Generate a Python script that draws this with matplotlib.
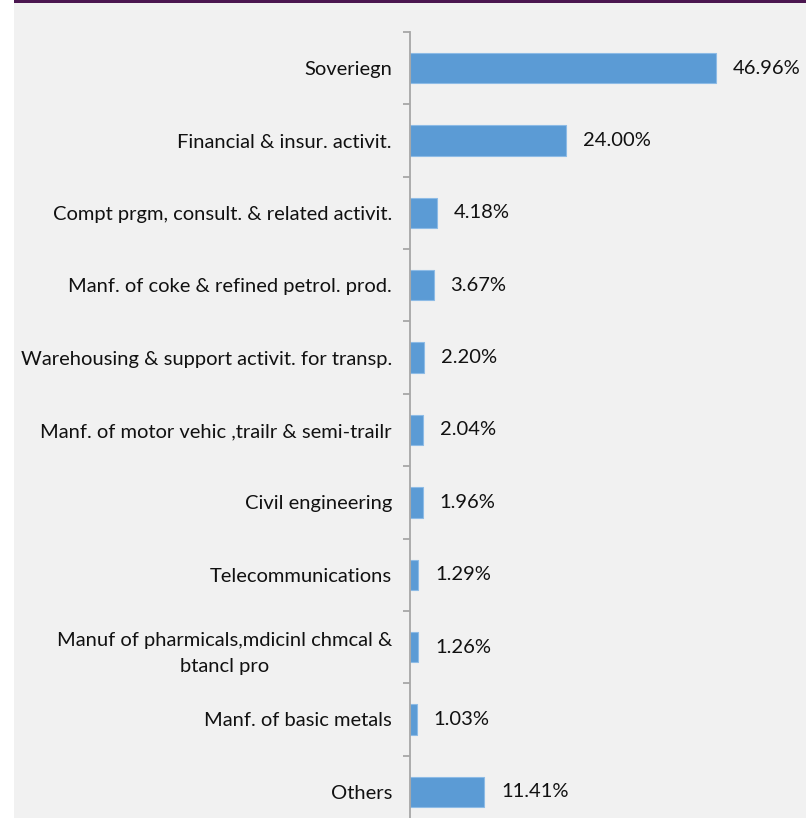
import matplotlib
matplotlib.use("Agg")
import matplotlib.pyplot as plt
from matplotlib.patches import Rectangle
from matplotlib.ticker import FixedLocator

plt.rcParams['font.family'] = ['Lato', 'DejaVu Sans']

sectors = [
    "Soveriegn",
    "Financial & insur. activit.",
    "Compt prgm, consult. & related activit.",
    "Manf. of coke & refined petrol. prod.",
    "Warehousing & support activit. for transp.",
    "Manf. of motor vehic ,trailr & semi-trailr",
    "Civil engineering",
    "Telecommunications",
    "Manuf of pharmicals,mdicinl chmcal &\nbtancl pro",
    "Manf. of basic metals",
    "Others",
]
shares = [46.96, 24.00, 4.18, 3.67, 2.20, 2.04, 1.96, 1.29, 1.26, 1.03, 11.41]

W, H = 806, 818
fig = plt.figure(figsize=(W / 100, H / 100), dpi=100)
fig.patch.set_facecolor("white")

# panel background and top accent rule
fig.add_artist(Rectangle((14 / W, 0), 1 - 14 / W, 1, transform=fig.transFigure,
                         facecolor="#f1f1f1", edgecolor="none", zorder=0))
fig.add_artist(Rectangle((14 / W, 1 - 3 / H), 1 - 14 / W, 3 / H, transform=fig.transFigure,
                         facecolor="#4b1650", edgecolor="none", zorder=1))

ax = fig.add_axes([410 / W, -10 / H, (W - 410) / W, 796 / H])
ax.set_facecolor("none")

ypos = list(range(len(sectors)))
ax.barh(ypos, shares, height=0.42, color="#5b9bd5", edgecolor="#8dbbe6", linewidth=0.8)

ax.set_xlim(0, (W - 410) / 6.52)
ax.set_ylim(len(sectors) - 0.5, -0.5)

for s in ["top", "right", "bottom"]:
    ax.spines[s].set_visible(False)
ax.spines["left"].set_color("#a6a6a6")
ax.spines["left"].set_linewidth(1.3)
ax.xaxis.set_visible(False)

ax.set_yticks(ypos)
ax.set_yticklabels(sectors, fontsize=14.5, color="#111111")
for lbl in ax.get_yticklabels():
    lbl.set_multialignment("center")
    lbl.set_linespacing(1.7)
ax.tick_params(axis="y", which="major", length=0, pad=13)
ax.yaxis.set_minor_locator(FixedLocator([i - 0.5 for i in range(len(sectors) + 1)]))
ax.tick_params(axis="y", which="minor", length=5, width=1.3, color="#a6a6a6", direction="out")

for i, v in enumerate(shares):
    ax.annotate(f"{v:.2f}%", xy=(v, i), xytext=(12, 0), textcoords="offset points",
                ha="left", va="center", fontsize=14.5, color="#111111")

fig.savefig("out.png", dpi=100, facecolor=fig.get_facecolor())
